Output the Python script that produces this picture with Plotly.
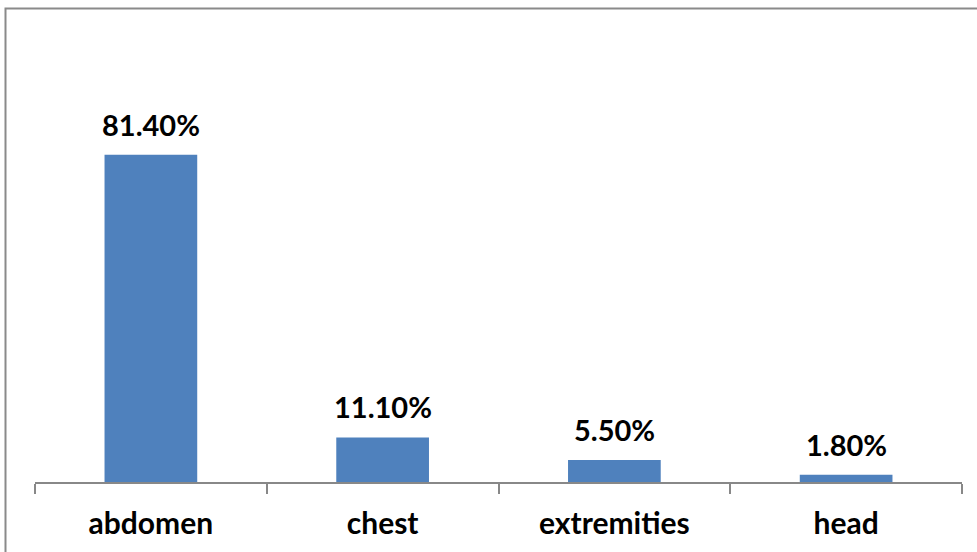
import plotly.graph_objects as go

# Share of injuries by body region (%)
regions = ["abdomen", "chest", "extremities", "head"]
shares = [81.4, 11.1, 5.5, 1.8]

BAR_COLOR = "#4F81BD"
AXIS_COLOR = "#888888"
FONT = "Lato"

W, H = 977, 552
ML, MR, MT, MB = 35, 15, 80, 70
plot_w = W - ML - MR
plot_h = H - MT - MB

fig = go.Figure(
    go.Bar(
        x=regions,
        y=shares,
        marker=dict(color=BAR_COLOR, line=dict(width=0)),
        hoverinfo="skip",
    )
)

# value labels above each bar
for cat, val in zip(regions, shares):
    fig.add_annotation(
        x=cat, y=val, text=f"<b>{val:.2f}%</b>",
        showarrow=False, yanchor="bottom", yshift=11,
        font=dict(family=FONT, size=29, color="#000000"),
    )

# outer chart border (top and left edges visible)
fig.add_shape(
    type="rect", xref="paper", yref="paper",
    x0=(5.5 - ML) / plot_w, x1=(W + 10 - ML) / plot_w,
    y0=-(H + 10 - MT - plot_h) / plot_h, y1=1 + (MT - 8.5) / plot_h,
    line=dict(color="#8a8a8a", width=2), fillcolor="rgba(0,0,0,0)",
    layer="below",
)

fig.update_layout(
    width=W, height=H,
    margin=dict(l=ML, r=MR, t=MT, b=MB, pad=0),
    paper_bgcolor="white", plot_bgcolor="white",
    bargap=0.6,
    showlegend=False,
    xaxis=dict(
        type="category",
        showline=True, linecolor=AXIS_COLOR, linewidth=1.5,
        ticks="outside", tickson="boundaries", ticklen=10,
        tickcolor=AXIS_COLOR, tickwidth=1.5,
        tickfont=dict(family=FONT, size=30, color="#000000"),
        tickprefix="<b>", ticksuffix="</b>",
        ticklabelstandoff=14,
        showgrid=False, zeroline=False,
    ),
    yaxis=dict(
        range=[0, 100], visible=False, showgrid=False, zeroline=False,
    ),
)

fig.write_html("out.html")
